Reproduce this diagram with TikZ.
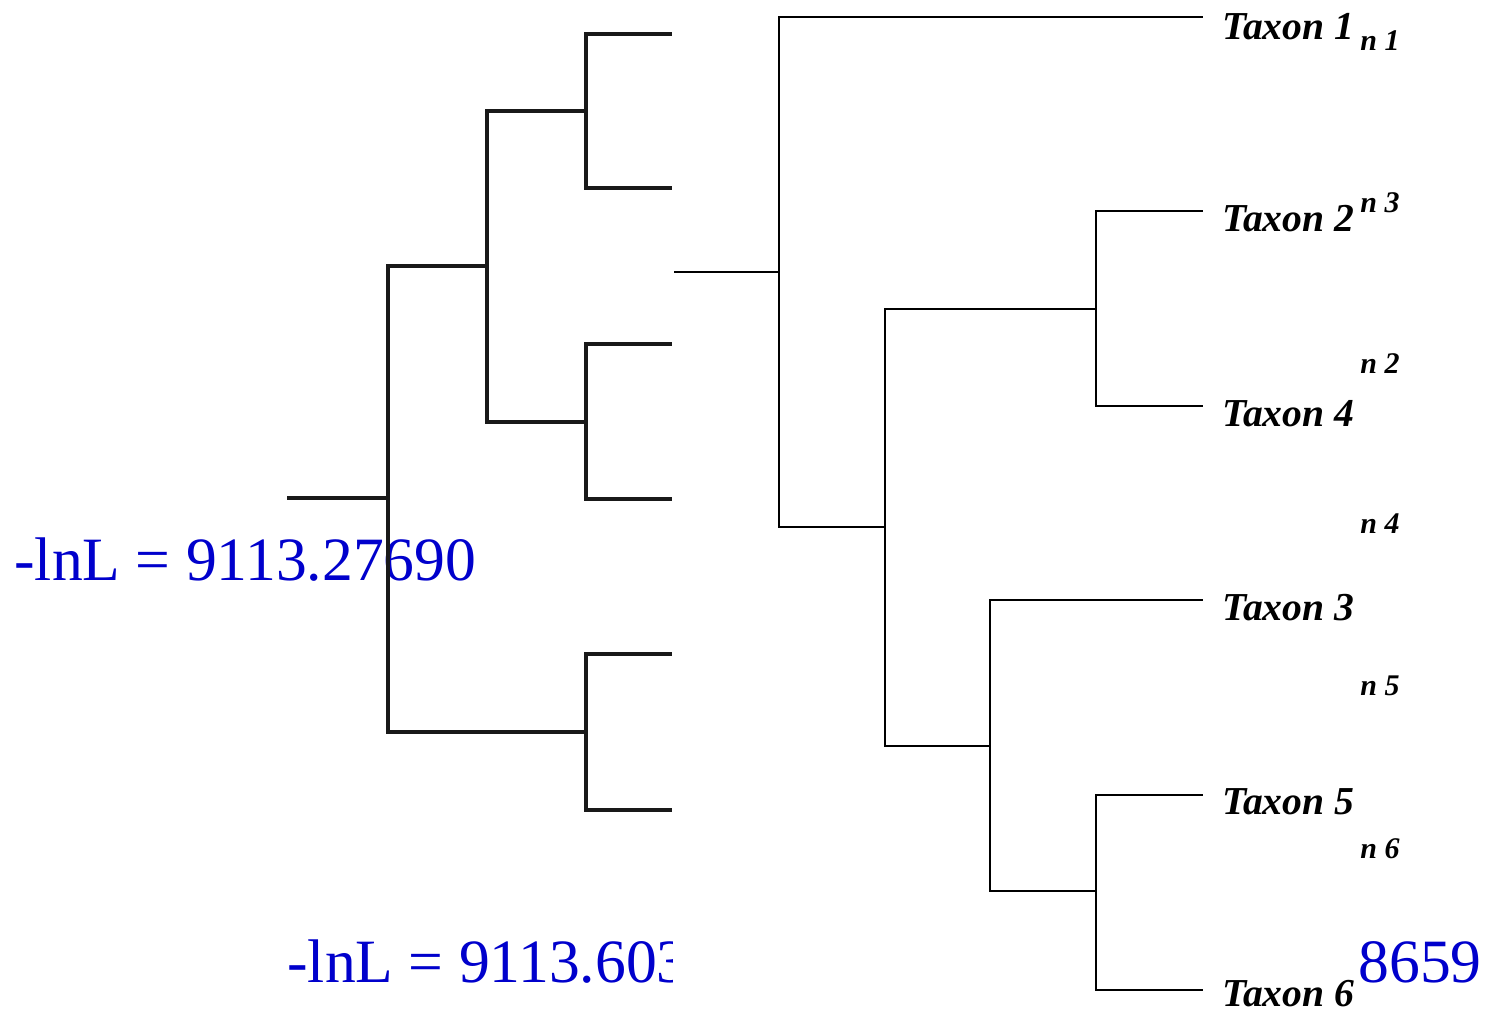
\documentclass[tikz,border=0pt]{standalone}
\usepackage{fontspec}
\setmainfont{Liberation Serif}
\definecolor{lnblue}{RGB}{0,0,204}
\begin{document}
\begin{tikzpicture}[x=0.5pt,y=-0.5pt,
  lefttree/.style={line width=1.6pt,black!90,line join=miter},
  righttree/.style={line width=1.25pt,black,line join=miter},
  taxon/.style={anchor=base west,inner sep=0pt,font=\fontsize{19.8}{19.8}\selectfont\bfseries\itshape},
  ghost/.style={anchor=base east,inner sep=0pt,font=\fontsize{15}{15}\selectfont\bfseries\itshape},
  lnl/.style={text=lnblue,inner sep=0pt,font=\fontsize{30.8}{30.8}\selectfont}]
\useasboundingbox[fill=white] (0,0) rectangle (1486,1014);

% ---- blue likelihood labels ----
\node[lnl,anchor=base west] (lnA) at (14,580) {-lnL = 9113.27690};
\begin{scope}
  \clip (0,0) rectangle (672,1014);
  \node[lnl,anchor=base west] (lnB) at (287,982) {-lnL = 9113.60\rlap{321}};
\end{scope}
\node[lnl,anchor=base east] (lnC) at (1482,982) {8659};

% ---- left tree (cut at x = 672) ----
\coordinate (Lr) at (287,498);
\coordinate (L0) at (388,498);
\coordinate (LA) at (487,266);
\coordinate (LB) at (586,111);
\coordinate (LC) at (586,422);
\coordinate (LD) at (586,732);
\coordinate (l1) at (672,34);
\coordinate (l2) at (672,188);
\coordinate (l3) at (672,344);
\coordinate (l4) at (672,499);
\coordinate (l5) at (672,654);
\coordinate (l6) at (672,810);
\draw[lefttree] (Lr) -- (L0);
\draw[lefttree] (L0) |- (LA);
\draw[lefttree] (L0) |- (LD);
\draw[lefttree] (LA) |- (LB);
\draw[lefttree] (LA) |- (LC);
\draw[lefttree] (LB) |- (l1);
\draw[lefttree] (LB) |- (l2);
\draw[lefttree] (LC) |- (l3);
\draw[lefttree] (LC) |- (l4);
\draw[lefttree] (LD) |- (l5);
\draw[lefttree] (LD) |- (l6);

% ---- right tree ----
\coordinate (Rr) at (674,272);
\coordinate (R0) at (779,272);
\coordinate (RE) at (885,527);
\coordinate (RF) at (1096,309);
\coordinate (RG) at (990,746);
\coordinate (RH) at (1096,891);
\coordinate (t1) at (1203,17);
\coordinate (t2) at (1203,211);
\coordinate (t4) at (1203,406);
\coordinate (t3) at (1203,600);
\coordinate (t5) at (1203,795);
\coordinate (t6) at (1203,990);
\draw[righttree] (Rr) -- (R0);
\draw[righttree] (R0) |- (t1);
\draw[righttree] (R0) |- (RE);
\draw[righttree] (RE) |- (RF);
\draw[righttree] (RE) |- (RG);
\draw[righttree] (RF) |- (t2);
\draw[righttree] (RF) |- (t4);
\draw[righttree] (RG) |- (t3);
\draw[righttree] (RG) |- (RH);
\draw[righttree] (RH) |- (t5);
\draw[righttree] (RH) |- (t6);

\node[taxon] (n1) at (1222,39) {Taxon 1};
\node[taxon] (n2) at (1222,231) {Taxon 2};
\node[taxon] (n4) at (1222,426) {Taxon 4};
\node[taxon] (n3) at (1222,620) {Taxon 3};
\node[taxon] (n5) at (1222,814) {Taxon 5};
\node[taxon] (n6) at (1222,1006) {Taxon 6};

% ---- cut-off labels of another tree ----
\node[ghost] (g1) at (1400,50) {n 1};
\node[ghost] (g3) at (1400,212) {n 3};
\node[ghost] (g2) at (1400,373) {n 2};
\node[ghost] (g4) at (1400,533) {n 4};
\node[ghost] (g5) at (1400,695) {n 5};
\node[ghost] (g6) at (1400,858) {n 6};
\end{tikzpicture}
\end{document}
